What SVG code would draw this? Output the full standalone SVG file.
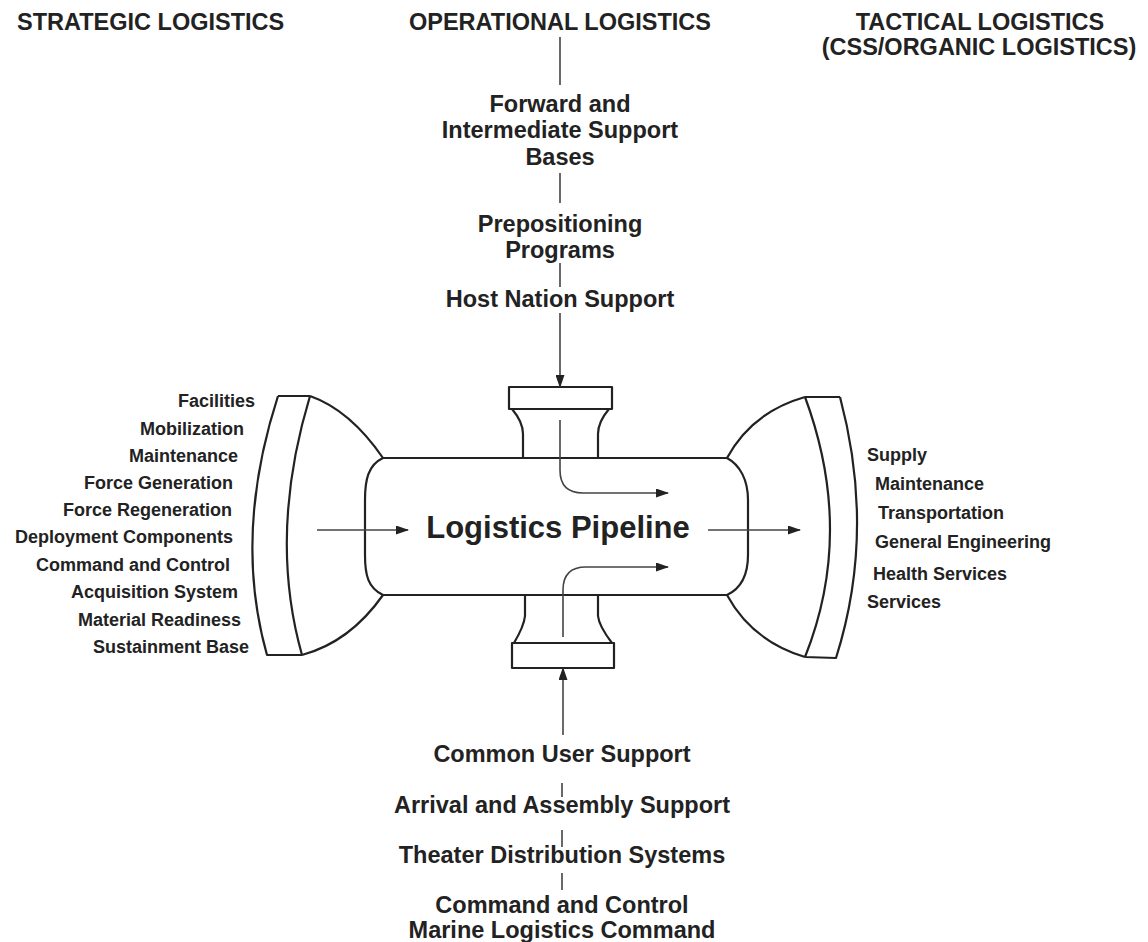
<svg xmlns="http://www.w3.org/2000/svg" width="1148" height="942" viewBox="0 0 1148 942">
<style>
text{font-family:"Liberation Sans",Arial,sans-serif;font-weight:bold;fill:#222}
.h{font-size:23.5px}
.m{font-size:23.5px;text-anchor:middle}
.s{font-size:18px}
.e{text-anchor:end}
.shape{fill:none;stroke:#222;stroke-width:2.2;stroke-linejoin:round}
.conn{fill:none;stroke:#444;stroke-width:1.6}
</style>
<defs>
<marker id="ah" markerUnits="userSpaceOnUse" markerWidth="13" markerHeight="9" refX="12" refY="4.5" orient="auto">
<path d="M0,0 L13,4.5 L0,9 z" fill="#222"/>
</marker>
</defs>
<rect width="1148" height="942" fill="#fff"/>

<g id="headers">
<text class="h" x="17" y="30">STRATEGIC LOGISTICS</text>
<text class="m" x="560" y="30">OPERATIONAL LOGISTICS</text>
<text class="m" x="980" y="30">TACTICAL LOGISTICS</text>
<text class="m" x="979" y="55">(CSS/ORGANIC LOGISTICS)</text>
</g>

<g id="pipeline">
<path class="shape" d="M383,458 L727,458 M383,595 L727,595"/>
<path class="shape" d="M383,458 C368,465 365,480 365,500 L365,555 C365,575 368,588 383,595"/>
<path class="shape" d="M727,458 C740,465 748,480 748,500 L748,555 C748,575 742,588 727,595"/>
<text x="558" y="538" style="font-size:31px;text-anchor:middle">Logistics Pipeline</text>
</g>

<g id="left-funnel">
<path class="shape" d="M278,396 L310,396 M278,396 Q233,535 267,655 L302,655 M310,396 Q268,535 302,655"/>
<path class="shape" d="M310,396 Q350,410 383,458 M383,595 Q350,642 302,655"/>
</g>

<g id="right-funnel">
<path class="shape" d="M805,397 L840,397 M840,397 Q876,532 836,658 L805,657 M805,397 Q855,532 805,657"/>
<path class="shape" d="M727,458 Q752,412 805,397 M727,595 Q752,641 805,657"/>
</g>

<g id="top-spool">
<rect class="shape" x="509" y="387" width="103" height="22"/>
<path class="shape" d="M512,409 Q523,422 523,434 L523,458 M609,409 Q598,422 598,434 L598,458"/>
</g>

<g id="bottom-spool">
<rect class="shape" x="512" y="643" width="102" height="25"/>
<path class="shape" d="M525,595 L525,616 Q524,626 514,643 M598,595 L598,616 Q599,626 612,643"/>
</g>

<g id="strategic-labels">
<text class="s e" x="255" y="407">Facilities</text>
<text class="s e" x="244" y="435">Mobilization</text>
<text class="s e" x="238" y="462">Maintenance</text>
<text class="s e" x="233" y="489">Force Generation</text>
<text class="s e" x="232" y="516">Force Regeneration</text>
<text class="s e" x="233" y="543">Deployment Components</text>
<text class="s e" x="230" y="571">Command and Control</text>
<text class="s e" x="238" y="598">Acquisition System</text>
<text class="s e" x="241" y="626">Material Readiness</text>
<text class="s e" x="249" y="653">Sustainment Base</text>
</g>

<g id="tactical-labels">
<text class="s" x="867" y="461">Supply</text>
<text class="s" x="875" y="490">Maintenance</text>
<text class="s" x="878" y="519">Transportation</text>
<text class="s" x="875" y="548">General Engineering</text>
<text class="s" x="873" y="580">Health Services</text>
<text class="s" x="867" y="608">Services</text>
</g>

<g id="operational-top">
<text class="m" x="560" y="112">Forward and</text>
<text class="m" x="560" y="138">Intermediate Support</text>
<text class="m" x="560" y="165">Bases</text>
<text class="m" x="560" y="232">Prepositioning</text>
<text class="m" x="560" y="258">Programs</text>
<text class="m" x="560" y="307">Host Nation Support</text>
</g>

<g id="operational-bottom">
<text class="m" x="562" y="762">Common User Support</text>
<text class="m" x="562" y="813">Arrival and Assembly Support</text>
<text class="m" x="562" y="863">Theater Distribution Systems</text>
<text class="m" x="562" y="913">Command and Control</text>
<text class="m" x="562" y="938">Marine Logistics Command</text>
</g>

<g id="connectors">
<path class="conn" d="M560,37 L560,85 M560,173 L560,203 M560,263 L560,287"/>
<path class="conn" d="M562,783 L562,797 M562,830 L562,847 M562,873 L562,890"/>
<path class="conn" d="M560,313 L560,387" marker-end="url(#ah)"/>
<path class="conn" d="M563,735 L563,668" marker-end="url(#ah)"/>
<path class="conn" d="M560,420 L560,470 Q560,493 583,493 L668,493" marker-end="url(#ah)"/>
<path class="conn" d="M563,637 L563,590 Q563,567 586,567 L668,567" marker-end="url(#ah)"/>
<path class="conn" d="M317,530 L408,530" marker-end="url(#ah)"/>
<path class="conn" d="M708,530 L800,530" marker-end="url(#ah)"/>
</g>
</svg>
